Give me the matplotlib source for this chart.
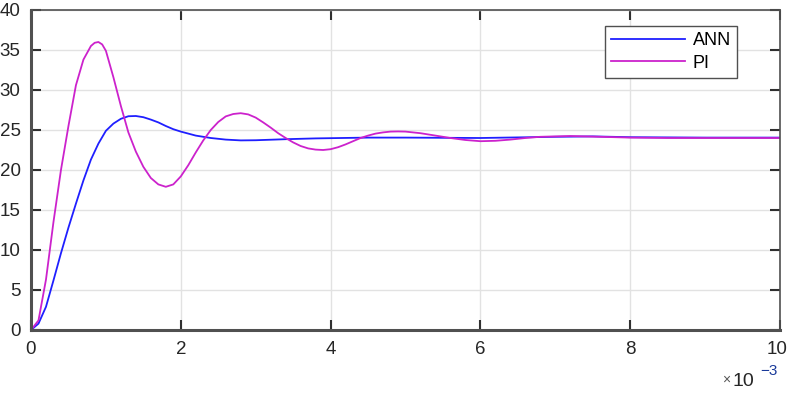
import numpy as np
import matplotlib
matplotlib.use("Agg")
import matplotlib.pyplot as plt
from matplotlib.transforms import ScaledTranslation

# time in ms (axis shows x10^-3 s)
pi_time_ms = [0.0, 0.1, 0.2, 0.3, 0.4, 0.5, 0.6, 0.7, 0.8, 0.85, 0.9, 0.95, 1.0, 1.1,
              1.2, 1.3, 1.4, 1.5, 1.6, 1.7, 1.8, 1.9, 2.0, 2.1, 2.2, 2.3, 2.4, 2.5,
              2.6, 2.7, 2.8, 2.9, 3.0, 3.1, 3.2, 3.3, 3.4, 3.5, 3.6, 3.7, 3.8, 3.9,
              4.0, 4.1, 4.2, 4.3, 4.4, 4.5, 4.6, 4.7, 4.8, 4.9, 5.0, 5.2, 5.4, 5.6,
              5.8, 6.0, 6.2, 6.4, 6.6, 6.8, 7.0, 7.2, 7.4, 7.6, 7.8, 8.0, 8.5, 9.0,
              10.0]
pi_values = [0.0, 1.2, 6.3, 13.5, 20.0, 25.5, 30.6, 33.8, 35.5, 35.9, 36.0, 35.7,
             34.9, 31.6, 28.0, 24.7, 22.3, 20.4, 19.0, 18.2, 17.9, 18.2, 19.2, 20.6,
             22.2, 23.7, 25.0, 26.0, 26.7, 27.0, 27.1, 26.95, 26.55, 25.95, 25.3,
             24.6, 24.0, 23.45, 23.0, 22.7, 22.55, 22.5, 22.6, 22.85, 23.2, 23.6,
             24.0, 24.3, 24.55, 24.7, 24.8, 24.82, 24.8, 24.6, 24.3, 24.0, 23.75,
             23.6, 23.65, 23.8, 24.0, 24.15, 24.2, 24.25, 24.2, 24.15, 24.1, 24.05,
             24.0, 24.0, 24.0]

ann_time_ms = [0.0, 0.1, 0.2, 0.3, 0.4, 0.5, 0.6, 0.7, 0.8, 0.9, 1.0, 1.1, 1.2, 1.3,
               1.4, 1.5, 1.6, 1.7, 1.8, 1.9, 2.0, 2.2, 2.4, 2.6, 2.8, 3.0, 3.4, 3.8,
               4.5, 5.0, 6.0, 7.0, 7.5, 8.0, 9.0, 10.0]
ann_values = [0.0, 0.8, 2.9, 6.2, 9.6, 12.8, 15.8, 18.7, 21.3, 23.3, 24.9, 25.8,
              26.4, 26.72, 26.75, 26.6, 26.3, 25.95, 25.5, 25.1, 24.8, 24.3, 24.0,
              23.8, 23.7, 23.72, 23.85, 23.95, 24.05, 24.05, 24.0, 24.15, 24.2,
              24.1, 24.05, 24.05]

x_ticks = [0, 2, 4, 6, 8, 10]
y_ticks = [0, 5, 10, 15, 20, 25, 30, 35, 40]

plt.rcParams['font.family'] = ['Liberation Sans', 'DejaVu Sans']

fig = plt.figure(figsize=(7.89, 3.96), dpi=100)
ax = fig.add_axes([31/789, 1 - 330/396, 749/789, 320/396])

ax.plot(ann_time_ms, ann_values, color='#1f1fff', lw=1.3, label='ANN')
ax.plot(pi_time_ms, pi_values, color='#cc22cc', lw=1.3, label='PI')

ax.set_xlim(0, 10)
ax.set_ylim(0, 40)
ax.set_xticks(x_ticks)
ax.set_yticks(y_ticks)
ax.grid(True, color='#e2e2e2', lw=1.0)
ax.set_axisbelow(True)

for s in ax.spines.values():
    s.set_color('#505050')
    s.set_linewidth(1.2)
ax.spines['left'].set_linewidth(2.2)
ax.spines['bottom'].set_linewidth(2.2)

ax.tick_params(direction='in', length=7, width=1.5, color='#303030',
               labelsize=13.5, labelcolor='#262626', top=True, right=True, pad=7.5)
ax.tick_params(axis='x', pad=8)
for lbl in ax.get_xticklabels():
    if lbl.get_text() == '10':
        lbl.set_horizontalalignment('right')
        lbl.set_transform(lbl.get_transform() +
                          ScaledTranslation(8/100, 0, fig.dpi_scale_trans))

leg = ax.legend(loc='upper left', bbox_to_anchor=(574/749, 0.95), fontsize=13,
                handlelength=4.1, handletextpad=0.4, borderpad=0.35,
                labelspacing=0.3, borderaxespad=0, fancybox=False, framealpha=1,
                edgecolor='#505050')
leg.get_frame().set_linewidth(1.0)

fig.text(722/789, 1 - 384/396, '×', fontsize=10, color='#555555', ha='left', va='baseline')
fig.text(733/789, 1 - 386/396, '10', fontsize=14, color='#262626', ha='left', va='baseline')
fig.text(760/789, 1 - 375/396, '−3', fontsize=11, color='#1a3a9a', ha='left', va='baseline')

fig.savefig('out.png', dpi=100)
